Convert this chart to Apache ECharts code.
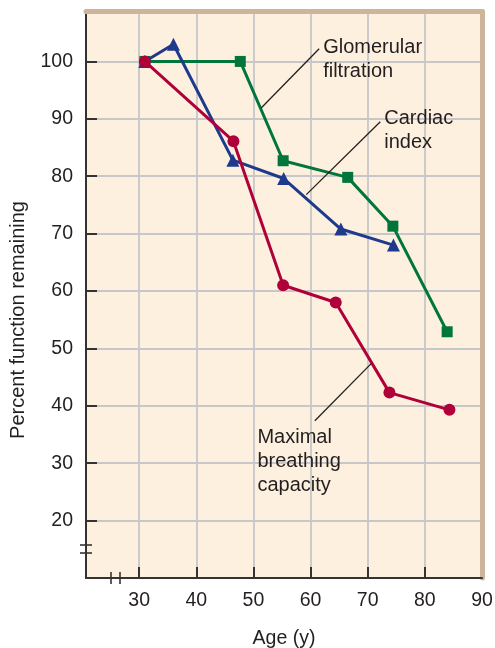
<!DOCTYPE html>
<html>
<head>
<meta charset="utf-8">
<title>Age and organ function</title>
<script src="https://cdn.jsdelivr.net/npm/echarts@6/dist/echarts.min.js"></script>
<style>
  html, body { margin: 0; padding: 0; background: #ffffff; }
  #chart { width: 495px; height: 648px; }
</style>
</head>
<body>
<div id="chart"></div>
<script>
// Percent of function remaining at each age (years)
const glomerularAge = [31, 47.7, 55.2, 66.5, 74.4, 83.9];
const glomerularPct = [100, 100, 82.7, 79.8, 71.3, 52.9];

const cardiacAge = [31, 36, 46.4, 55.3, 65.3, 74.5];
const cardiacPct = [100, 103, 82.8, 79.6, 70.8, 68.0];

const breathingAge = [31, 46.5, 55.2, 64.4, 73.8, 84.3];
const breathingPct = [100, 86.1, 61.0, 58.0, 42.3, 39.3];

const xTickLabels = [30, 40, 50, 60, 70, 80, 90];
const xTicks = [30, 40, 50, 60, 70, 80];
const yTickLabels = [20, 30, 40, 50, 60, 70, 80, 90, 100];

// Callout texts: first-line anchor and leader line ends (age, percent)
const callouts = [
  { lines: ['Glomerular', 'filtration'], at: [62.2, 102.46], from: [61.5, 102.2], to: [51.35, 91.9] },
  { lines: ['Cardiac', 'index'], at: [72.9, 90.1], from: [72.2, 89.5], to: [59.25, 76.8] },
  { lines: ['Maximal', 'breathing', 'capacity'], at: [50.7, 34.4], from: [60.75, 37.4], to: [70.65, 47.4] }
];

const FONT = '"Liberation Sans", Arial, Helvetica, sans-serif';
const INK = '#231f20';
const LINE_H = 24;

const zip = (xs, ys) => xs.map((x, i) => [x, ys[i]]);

const chart = echarts.init(document.getElementById('chart'), null, { renderer: 'canvas' });

chart.setOption({
  animation: false,
  backgroundColor: '#ffffff',
  grid: {
    left: 86, right: 13, top: 11.5, bottom: 70,
    outerBoundsMode: 'none', containLabel: false,
    show: true, backgroundColor: '#fdf0df', borderWidth: 0
  },
  xAxis: [
    {
      type: 'value', min: 20.7, max: 90,
      name: 'Age (y)', nameLocation: 'middle', nameGap: 51,
      nameTextStyle: { fontFamily: FONT, fontSize: 19.5, color: INK },
      axisLine: { show: true, lineStyle: { color: '#333333', width: 2 } },
      axisTick: { show: true, inside: true, length: 11, customValues: xTicks,
                  lineStyle: { color: '#333333', width: 2 } },
      axisLabel: { customValues: xTickLabels, margin: 13, fontFamily: FONT, fontSize: 19.5, color: INK,
                   showMinLabel: true, showMaxLabel: true },
      splitLine: { show: true, lineStyle: { color: '#c7c7ca', width: 1.8 } }
    },
    {
      type: 'value', position: 'top', min: 20.7, max: 90,
      axisLine: { show: true, onZero: false, lineStyle: { color: '#cdb59b', width: 5 } },
      axisTick: { show: false }, axisLabel: { show: false }, splitLine: { show: false }
    }
  ],
  yAxis: [
    {
      type: 'value', min: 10, max: 108.7, interval: 10,
      axisLine: { show: true, lineStyle: { color: '#333333', width: 2 } },
      axisTick: { show: true, inside: true, length: 11, customValues: yTickLabels,
                  lineStyle: { color: '#333333', width: 2 } },
      axisLabel: { customValues: yTickLabels, margin: 13, fontFamily: FONT, fontSize: 19.5, color: INK },
      splitLine: { show: true, lineStyle: { color: '#c7c7ca', width: 1.8 } }
    },
    {
      type: 'value', position: 'right', min: 10, max: 108.7,
      axisLine: { show: true, onZero: false, lineStyle: { color: '#cdb59b', width: 5 } },
      axisTick: { show: false }, axisLabel: { show: false }, splitLine: { show: false }
    }
  ],
  series: [
    {
      name: 'Glomerular filtration', type: 'line', data: zip(glomerularAge, glomerularPct),
      symbol: 'rect', symbolSize: 11, showAllSymbol: true,
      itemStyle: { color: '#00763a' }, lineStyle: { color: '#00763a', width: 3 }, z: 3
    },
    {
      name: 'Cardiac index', type: 'line', data: zip(cardiacAge, cardiacPct),
      symbol: 'triangle', symbolSize: 13, showAllSymbol: true,
      itemStyle: { color: '#1e3a8c' }, lineStyle: { color: '#1e3a8c', width: 3 }, z: 4
    },
    {
      name: 'Maximal breathing capacity', type: 'line', data: zip(breathingAge, breathingPct),
      symbol: 'circle', symbolSize: 12, showAllSymbol: true,
      itemStyle: { color: '#b0003a' }, lineStyle: { color: '#b0003a', width: 3 }, z: 5
    }
  ]
});

// Callouts, axis title and axis break marks
function decorate() {
  const px = p => chart.convertToPixel({ xAxisIndex: 0, yAxisIndex: 0 }, p);
  const origin = px([20.7, 10]);
  const g = [];

  callouts.forEach(c => {
    const a = px(c.from), b = px(c.to), t = px(c.at);
    g.push({
      type: 'line', shape: { x1: a[0], y1: a[1], x2: b[0], y2: b[1] },
      style: { stroke: INK, lineWidth: 1.3 }, z: 10
    });
    g.push({
      type: 'text', x: t[0], y: t[1] - LINE_H / 2,
      style: { text: c.lines.join('\n'), font: '20px ' + FONT, fill: INK,
               lineHeight: LINE_H, align: 'left', verticalAlign: 'top' },
      z: 10
    });
  });

  // y-axis title
  g.push({
    type: 'text', x: 18, y: 320, rotation: Math.PI / 2,
    style: { text: 'Percent function remaining', font: '20px ' + FONT, fill: INK,
             align: 'center', verticalAlign: 'middle' },
    z: 10
  });

  // break marks on both axes
  const ox = origin[0], oy = origin[1];
  [-33, -25].forEach(d => g.push({
    type: 'line', shape: { x1: ox - 6, y1: oy + d, x2: ox + 6, y2: oy + d },
    style: { stroke: '#333333', lineWidth: 1.6 }, z: 10
  }));
  [25, 34].forEach(d => g.push({
    type: 'line', shape: { x1: ox + d, y1: oy - 6, x2: ox + d, y2: oy + 6 },
    style: { stroke: '#333333', lineWidth: 1.6 }, z: 10
  }));

  chart.setOption({ graphic: g });
}
decorate();
</script>
</body>
</html>
